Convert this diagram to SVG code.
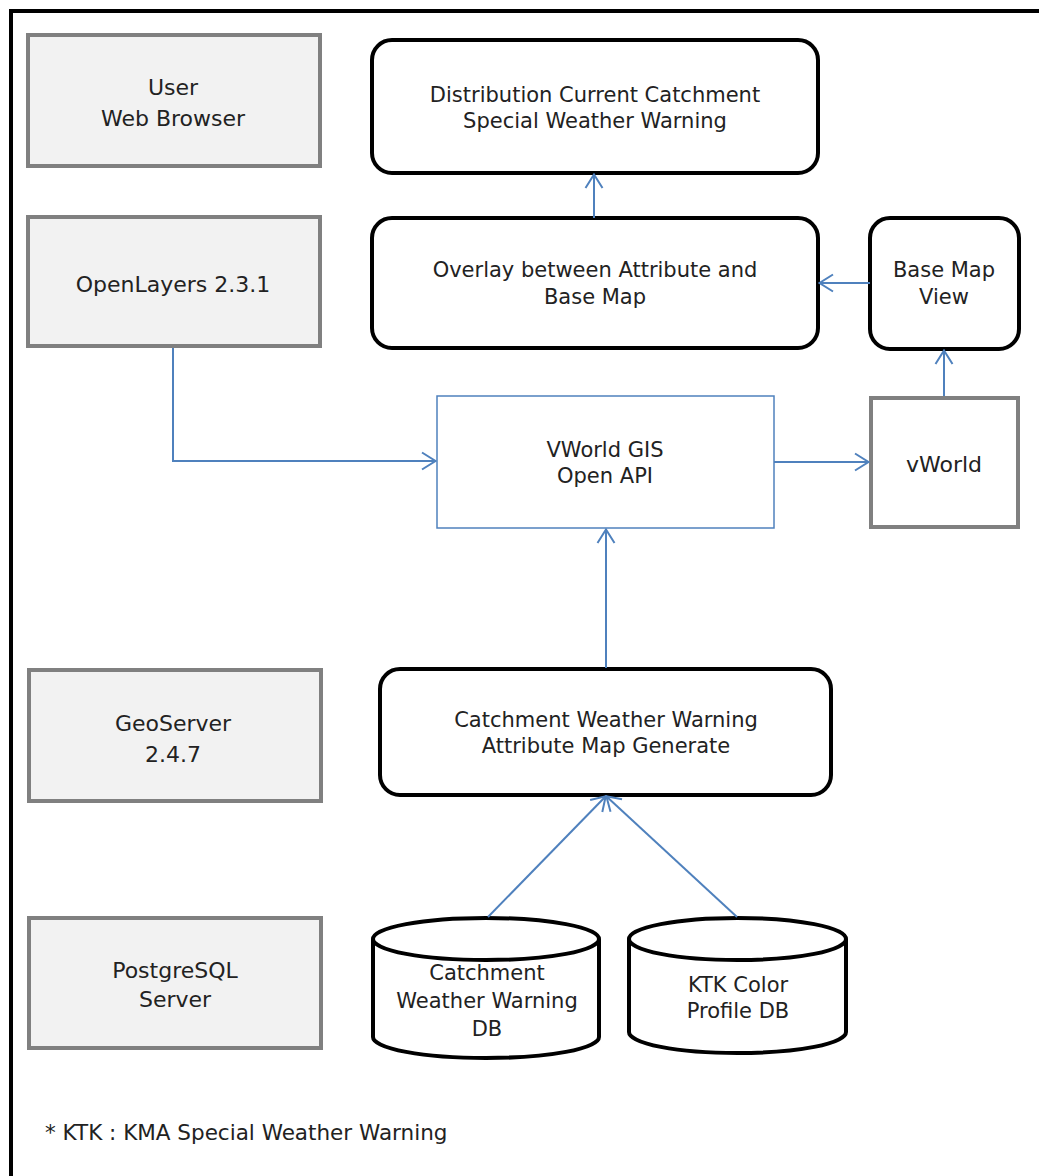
<svg xmlns="http://www.w3.org/2000/svg" width="1039" height="1176" viewBox="0 0 1039 1176">
<defs>
<marker id="arr" viewBox="0 0 17 20" refX="16" refY="10" markerWidth="17" markerHeight="20" markerUnits="userSpaceOnUse" orient="auto">
<path d="M2,1.5 L15.5,10 L2,18.5" fill="none" stroke="#4f81bd" stroke-width="2"/>
</marker>
</defs>
<style>
.layer{fill:#f2f2f2;stroke:#808080;stroke-width:4}
.proc{fill:#fff;stroke:#000;stroke-width:4}
.gray{fill:#fff;stroke:#808080;stroke-width:4}
.api{fill:#fff;stroke:#4f81bd;stroke-width:1.5}
.t{font-family:"DejaVu Sans","Open Sans",sans-serif;fill:#222;text-anchor:middle}
.l{font-size:22px}
.r{font-size:21px}
.c{fill:none;stroke:#4f81bd;stroke-width:2;marker-end:url(#arr)}
</style>
<rect x="11" y="11" width="1040" height="1180" fill="#fff" stroke="#000" stroke-width="4"/>

<g id="user-web-browser">
<rect class="layer" x="28" y="35" width="292" height="131"/>
<text class="t l" x="173" y="95"><tspan x="173">User</tspan><tspan x="173" dy="31">Web Browser</tspan></text>
</g>
<g id="openlayers">
<rect class="layer" x="28" y="217" width="292" height="129"/>
<text class="t l" x="173" y="292">OpenLayers 2.3.1</text>
</g>
<g id="geoserver">
<rect class="layer" x="29" y="670" width="292" height="131"/>
<text class="t l" x="173" y="731"><tspan x="173">GeoServer</tspan><tspan x="173" dy="31">2.4.7</tspan></text>
</g>
<g id="postgresql">
<rect class="layer" x="29" y="918" width="292" height="130"/>
<text class="t l" x="175" y="978"><tspan x="175">PostgreSQL</tspan><tspan x="175" dy="29">Server</tspan></text>
</g>

<g id="distribution">
<rect class="proc" x="372" y="40" width="446" height="133" rx="20"/>
<text class="t r" x="595" y="102"><tspan x="595">Distribution Current Catchment</tspan><tspan x="595" dy="26">Special Weather Warning</tspan></text>
</g>
<g id="overlay">
<rect class="proc" x="372" y="218" width="446" height="130" rx="20"/>
<text class="t r" x="595" y="277"><tspan x="595">Overlay between Attribute and</tspan><tspan x="595" dy="27">Base Map</tspan></text>
</g>
<g id="base-map-view">
<rect class="proc" x="870" y="218" width="149" height="131" rx="20"/>
<text class="t r" x="944" y="277"><tspan x="944">Base Map</tspan><tspan x="944" dy="27">View</tspan></text>
</g>
<g id="vworld-api">
<rect class="api" x="437" y="396" width="337" height="132"/>
<text class="t r" x="605" y="457"><tspan x="605">VWorld GIS</tspan><tspan x="605" dy="26">Open API</tspan></text>
</g>
<g id="vworld">
<rect class="gray" x="871" y="398" width="147" height="129"/>
<text class="t l" x="944" y="472">vWorld</text>
</g>
<g id="catchment-map">
<rect class="proc" x="380" y="669" width="451" height="126" rx="20"/>
<text class="t r" x="606" y="727"><tspan x="606">Catchment Weather Warning</tspan><tspan x="606" dy="26">Attribute Map Generate</tspan></text>
</g>
<g id="catchment-db">
<path class="proc" d="M373,939 L373,1037 A113,21 0 0 0 599,1037 L599,939"/>
<ellipse class="proc" cx="486" cy="939" rx="113" ry="21"/>
<text class="t r" x="487" y="980"><tspan x="487">Catchment</tspan><tspan x="487" dy="28">Weather Warning</tspan><tspan x="487" dy="28">DB</tspan></text>
</g>
<g id="ktk-db">
<path class="proc" d="M629,939 L629,1032 A108.5,21 0 0 0 846,1032 L846,939"/>
<ellipse class="proc" cx="737.5" cy="939" rx="108.5" ry="21"/>
<text class="t r" x="738" y="992"><tspan x="738">KTK Color</tspan><tspan x="738" dy="26">Profile DB</tspan></text>
</g>

<g id="connectors">
<path class="c" d="M594,218 L594,174"/>
<path class="c" d="M870,283 L819,283"/>
<path class="c" d="M944,396 L944,350"/>
<path class="c" d="M173,348 L173,461 L436,461"/>
<path class="c" d="M774,462 L869,462"/>
<path class="c" d="M606,668 L606,529"/>
<path class="c" d="M488,917 L606,796"/>
<path class="c" d="M737,917 L606,796"/>
</g>
<text class="t" x="45" y="1140" style="font-size:21.5px;text-anchor:start">* KTK : KMA Special Weather Warning</text>
</svg>
